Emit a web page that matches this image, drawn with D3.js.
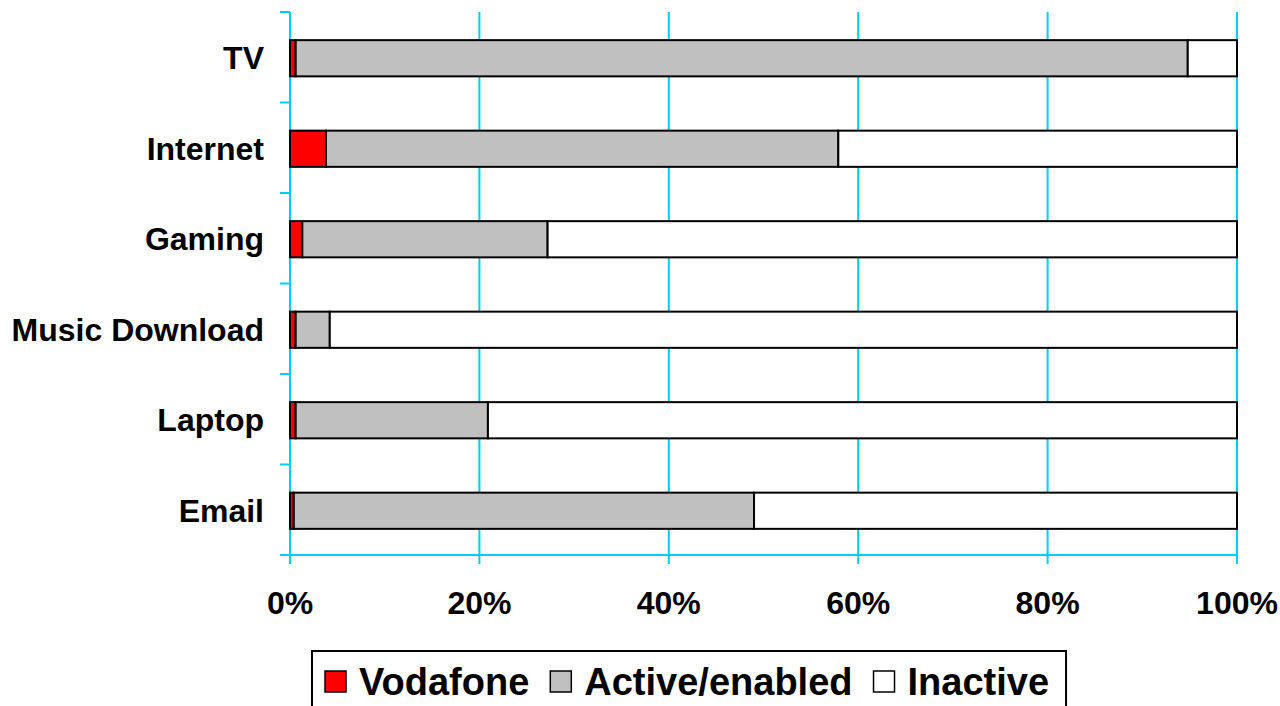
<!DOCTYPE html>
<html>
<head>
<meta charset="utf-8">
<script src="https://cdn.jsdelivr.net/npm/d3@7"></script>
<style>
  body { margin: 0; background: #ffffff; }
  svg { display: block; }
</style>
</head>
<body>
<div id="chart"></div>
<script>
// Data (percent of each row)
const categories = ["TV", "Internet", "Gaming", "Music Download", "Laptop", "Email"];
const seriesNames = ["Vodafone", "Active/enabled", "Inactive"];
const vodafone = [0.6, 3.8, 1.3, 0.6, 0.6, 0.4];
const active = [94.2, 54.1, 25.9, 3.6, 20.3, 48.6];
const inactive = [5.2, 42.1, 72.8, 95.8, 79.1, 51.0];
const tickValues = [0, 20, 40, 60, 80, 100];

// Colors
const seriesFill = ["#ff0000", "#c0c0c0", "#ffffff"];
const gridColor = "#00ccff";
const lineColor = "#000000";

// Dimensions
const width = 1280;
const height = 706;
const plotLeft = 290, plotRight = 1237, plotTop = 12, plotBottom = 555;
const fontFamily = "'Liberation Sans', Arial, sans-serif";

const svg = d3.select("#chart").append("svg")
  .attr("width", width)
  .attr("height", height);

const x = d3.scaleLinear().domain([0, 100]).range([plotLeft, plotRight]);
// bars sit a pixel lower than the exact band centre
const y = d3.scaleBand().domain(categories).range([plotTop + 1, plotBottom + 1]).paddingInner(0.6).paddingOuter(0.3);
const yOuter = d3.scaleBand().domain(categories).range([plotTop, plotBottom]);

// Build stacked rows
const rows = categories.map((c, i) => ({
  category: c, Vodafone: vodafone[i], "Active/enabled": active[i], Inactive: inactive[i]
}));
const stacked = d3.stack().keys(seriesNames)(rows);

// Vertical gridlines (with ticks below the axis)
svg.selectAll("line.grid")
  .data(tickValues)
  .enter()
  .append("line")
  .attr("class", "grid")
  .attr("x1", d => x(d))
  .attr("x2", d => x(d))
  .attr("y1", plotTop)
  .attr("y2", plotBottom + 9)
  .attr("stroke", gridColor)
  .attr("stroke-width", 2);

// Bottom axis line
svg.append("line")
  .attr("x1", plotLeft - 10).attr("x2", plotRight)
  .attr("y1", plotBottom).attr("y2", plotBottom)
  .attr("stroke", gridColor).attr("stroke-width", 2);

// Left axis ticks at band boundaries
const boundaries = categories.map(c => yOuter(c)).concat([plotBottom]);
svg.selectAll("line.ytick")
  .data(boundaries)
  .enter()
  .append("line")
  .attr("class", "ytick")
  .attr("x1", plotLeft - 10).attr("x2", plotLeft)
  .attr("y1", d => d).attr("y2", d => d)
  .attr("stroke", gridColor).attr("stroke-width", 2);

// Bars
stacked.forEach((layer, si) => {
  svg.selectAll("rect.s" + si)
    .data(layer)
    .enter()
    .append("rect")
    .attr("class", "s" + si)
    .attr("x", d => x(d[0]))
    .attr("y", d => y(d.data.category))
    .attr("width", d => x(d[1]) - x(d[0]))
    .attr("height", y.bandwidth())
    .attr("fill", seriesFill[si])
    .attr("stroke", lineColor)
    .attr("stroke-width", 2);
});

// Category labels
svg.selectAll("text.cat")
  .data(categories)
  .enter()
  .append("text")
  .attr("class", "cat")
  .attr("x", plotLeft - 26)
  .attr("y", d => yOuter(d) + yOuter.bandwidth() / 2 + 12)
  .attr("text-anchor", "end")
  .attr("font-family", fontFamily)
  .attr("font-weight", "bold")
  .attr("font-size", "32px")
  .text(d => d);

// X tick labels
svg.selectAll("text.xtick")
  .data(tickValues)
  .enter()
  .append("text")
  .attr("class", "xtick")
  .attr("x", d => x(d))
  .attr("y", 614)
  .attr("text-anchor", "middle")
  .attr("font-family", fontFamily)
  .attr("font-weight", "bold")
  .attr("font-size", "32px")
  .text(d => d + "%");

// Legend
const legend = svg.append("g");
const legendBox = legend.append("rect")
  .attr("x", 312).attr("y", 651)
  .attr("height", 80)
  .attr("fill", "#ffffff")
  .attr("stroke", lineColor)
  .attr("stroke-width", 2);

let lx = 325;
seriesNames.forEach((name, i) => {
  legend.append("rect")
    .attr("x", lx).attr("y", 671)
    .attr("width", 21).attr("height", 21)
    .attr("fill", seriesFill[i])
    .attr("stroke", lineColor)
    .attr("stroke-width", 1.5);
  const t = legend.append("text")
    .attr("x", lx + 34)
    .attr("y", 695)
    .attr("font-family", fontFamily)
    .attr("font-weight", "bold")
    .attr("font-size", "38px")
    .text(name);
  lx = lx + 34 + t.node().getComputedTextLength() + (i < seriesNames.length - 1 ? 21 : 17);
});
legendBox.attr("width", lx - 312);
</script>
</body>
</html>
